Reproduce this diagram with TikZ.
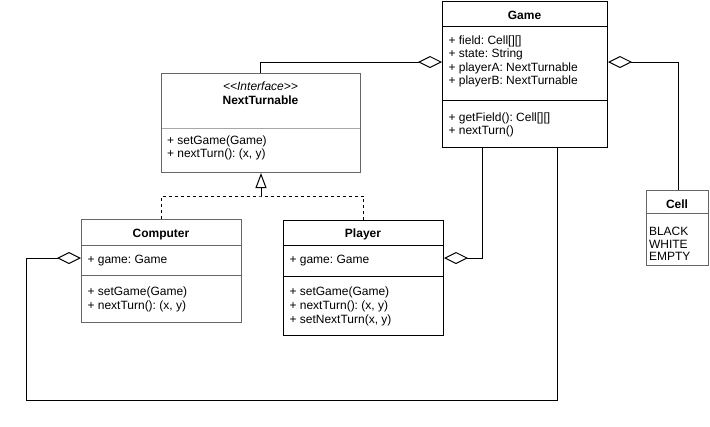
\documentclass[tikz,border=0pt]{standalone}
\usepackage{fontspec}
\setmainfont{Liberation Sans}
\usetikzlibrary{arrows.meta,calc}
\definecolor{bgray}{HTML}{666666}
\definecolor{lgray}{HTML}{A8A8A8}
\frenchspacing
\begin{document}
\begin{tikzpicture}[x=0.75pt,y=-0.75pt,line width=0.75pt,
  cls/.style={draw=black,rectangle,inner sep=0pt,anchor=north west,fill=white},
  gcls/.style={cls,draw=bgray},
  txt/.style={anchor=base west,inner sep=0pt,font=\fontsize{9pt}{10pt}\selectfont},
  ttl/.style={anchor=base,inner sep=0pt,font=\fontsize{9pt}{10pt}\selectfont\bfseries},
  stereo/.style={anchor=base,inner sep=0pt,font=\fontsize{9pt}{10pt}\selectfont\itshape},
  agg/.style={-{Diamond[open,length=18pt,width=9pt,line width=0.75pt]}},
  realize/.style={-{Triangle[open,length=11.25pt,width=8.25pt,line width=0.75pt]}},
  dsh/.style={dash pattern=on 2.25pt off 2.25pt}]
\useasboundingbox (0,0) rectangle (710,426);
\fill[white] (0,0) rectangle (710,426);

% Game
\node[cls,minimum width=123.75pt,minimum height=109.5pt] (game) at (442,1) {};
\draw ($(game.north west)+(0,25)$) -- ($(game.north east)+(0,25)$);
\draw ($(game.north west)+(0,99)$) -- ($(game.north east)+(0,99)$);
\node[ttl] (gameT) at (524.5,19) {Game};
\node[txt] (g1) at (448,44) {+ field: Cell[][]};
\node[txt] (g2) at (448,57.5) {+ state: String};
\node[txt] (g3) at (448,71) {+ playerA: NextTurnable};
\node[txt] (g4) at (448,84.5) {+ playerB: NextTurnable};
\node[txt] (g5) at (448,121) {+ getField(): Cell[][]};
\node[txt] (g6) at (448,134.5) {+ nextTurn()};

% NextTurnable
\node[gcls,minimum width=149.25pt,minimum height=74.25pt] (nt) at (161,73) {};
\draw[lgray] ($(nt.north west)+(0.7,55)$) -- ($(nt.north east)+(-0.7,55)$);
\node[stereo] (ntS) at (260.5,90) {{<}{<}Interface{>}{>}};
\node[ttl] (ntT) at (260.5,104.5) {NextTurnable};
\node[txt] (n1) at (166.5,144) {+ setGame(Game)};
\node[txt] (n2) at (166.5,157.5) {+ nextTurn(): (x, y)};

% Computer
\node[gcls,minimum width=120pt,minimum height=77.25pt] (comp) at (81,219) {};
\draw[bgray] ($(comp.north west)+(0,26)$) -- ($(comp.north east)+(0,26)$);
\draw[bgray] ($(comp.north west)+(0,56)$) -- ($(comp.north east)+(0,56)$);
\node[ttl] (compT) at (161,237.5) {Computer};
\node[txt] (c1) at (87,263) {+ game: Game};
\node[txt] (c2) at (87,295.5) {+ setGame(Game)};
\node[txt] (c3) at (87,309.5) {+ nextTurn(): (x, y)};

% Player
\node[cls,minimum width=120pt,minimum height=86.25pt] (player) at (283,220) {};
\draw ($(player.north west)+(0,25)$) -- ($(player.north east)+(0,25)$);
\draw ($(player.north west)+(0,56)$) -- ($(player.north east)+(0,56)$);
\node[ttl] (playerT) at (363,237.5) {Player};
\node[txt] (p1) at (289,263) {+ game: Game};
\node[txt] (p2) at (289,295.5) {+ setGame(Game)};
\node[txt] (p3) at (289,309.5) {+ nextTurn(): (x, y)};
\node[txt] (p4) at (289,323.5) {+ setNextTurn(x, y)};

% Cell
\node[gcls,minimum width=46.5pt,minimum height=56.25pt] (cell) at (646,190) {};
\draw[bgray] ($(cell.north west)+(0,23)$) -- ($(cell.north east)+(0,23)$);
\node[ttl] (cellT) at (677,208) {Cell};
\node[txt] (e1) at (648.5,235) {BLACK};
\node[txt] (e2) at (648.5,248) {WHITE};
\node[txt] (e3) at (648.5,260.5) {EMPTY};

% connectors
\coordinate (loop) at (26,400);
\coordinate (dashT) at (261,196);
\draw[agg] ($(nt.north west)+(99,0)$) |- ($(game.north west)+(0,61)$);
\draw[agg] ($(cell.north west)+(32,0)$) |- ($(game.north east)+(0,61)$);
\draw[agg] ($(game.south west)+(40,0)$) |- ($(player.north east)+(0,38)$);
\draw[agg] ($(game.south west)+(115,0)$) |- (loop) |- ($(comp.north west)+(0,39)$);
\draw[dsh] (comp.north) |- (dashT) -| (player.north);
\draw[realize] (dashT) -- (dashT |- nt.south);
\end{tikzpicture}
\end{document}
